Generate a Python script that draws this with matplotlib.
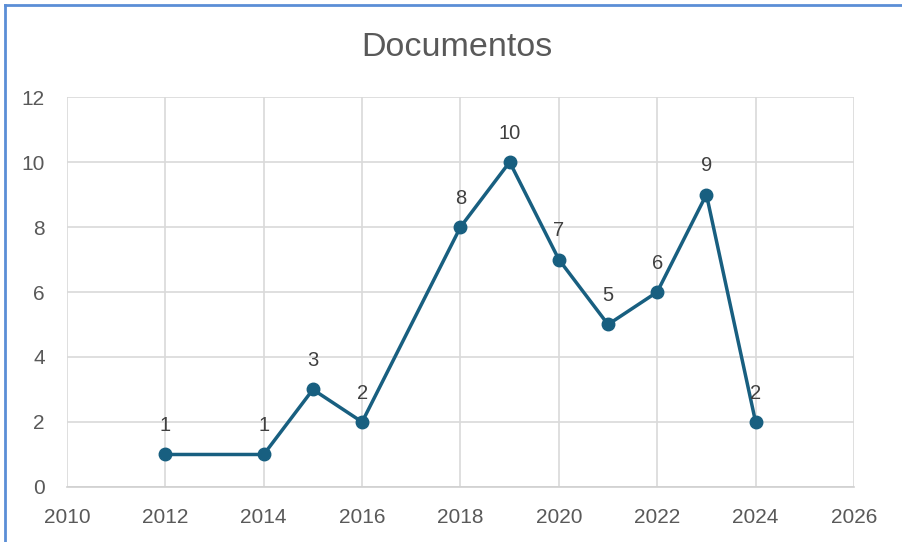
import matplotlib
matplotlib.use("Agg")
import matplotlib.pyplot as plt
from matplotlib.lines import Line2D

years = [2012, 2014, 2015, 2016, 2018, 2019, 2020, 2021, 2022, 2023, 2024]
docs = [1, 1, 3, 2, 8, 10, 7, 5, 6, 9, 2]

xticks = list(range(2010, 2027, 2))
yticks = list(range(0, 13, 2))

plt.rcParams["font.family"] = ["Liberation Sans", "DejaVu Sans"]

fig = plt.figure(figsize=(9.03, 5.42), dpi=100)
ax = fig.add_axes([0.0742, 0.1015, 0.8715, 0.7195])

line_color = "#185f80"
ax.plot(years, docs, color=line_color, lw=2.5, marker="o", ms=9, zorder=3)
for x, y in zip(years, docs):
    ax.annotate(str(y), (x, y), xytext=(0, 14), textcoords="offset points",
                ha="center", va="bottom", fontsize=14.5, color="#404040")

ax.set_xlim(2010, 2026)
ax.set_ylim(0, 12)
ax.set_xticks(xticks)
ax.set_yticks(yticks)
ax.grid(True, color="#d9d9d9", lw=1.2)
ax.set_axisbelow(True)
for side in ["top", "right", "left"]:
    ax.spines[side].set_visible(False)
ax.spines["bottom"].set_color("#d0d0d0")
ax.spines["bottom"].set_linewidth(1.2)
ax.tick_params(length=0, labelsize=15, labelcolor="#595959")
ax.tick_params(axis="x", pad=15)
ax.tick_params(axis="y", pad=16)

fig.text(0.506, 0.913, "Documentos", ha="center", va="center",
         fontsize=24.5, color="#595959")

# Outer chart frame (blue, top and left edges visible)
border = "#5b8ed6"
fig.add_artist(Line2D([5 / 903, 1.0], [1 - 4.5 / 542, 1 - 4.5 / 542],
                      transform=fig.transFigure, color=border, lw=2))
fig.add_artist(Line2D([5 / 903, 5 / 903], [0.0, 1 - 4.5 / 542],
                      transform=fig.transFigure, color=border, lw=2))

fig.savefig("out.png", dpi=100)
